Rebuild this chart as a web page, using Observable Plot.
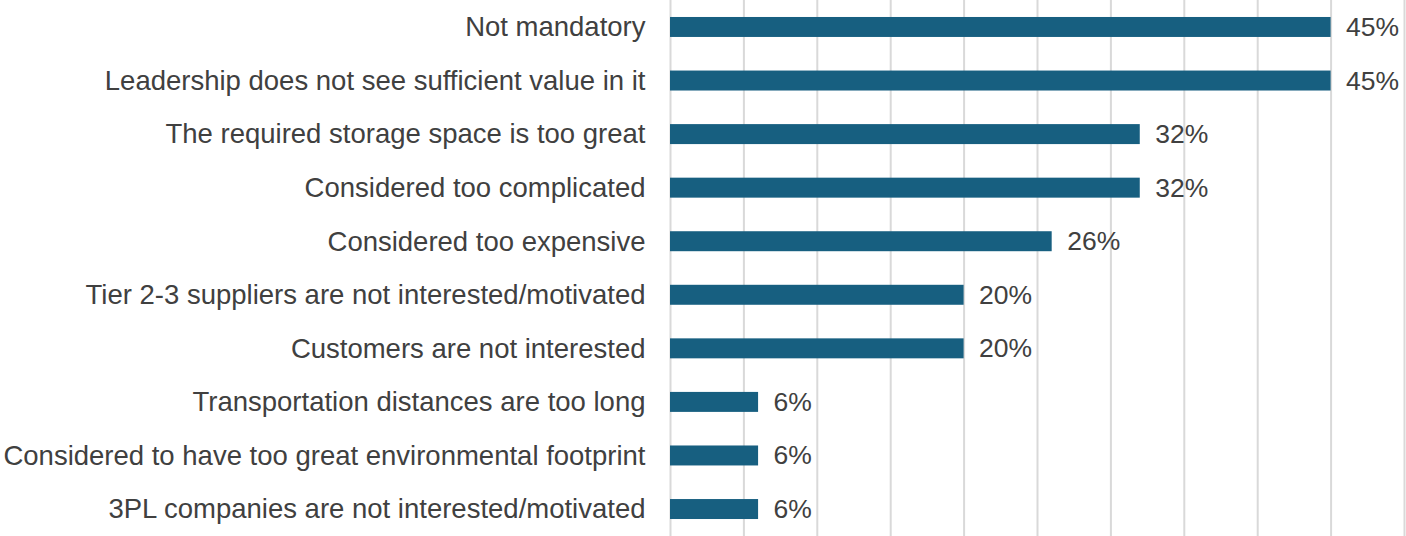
<!DOCTYPE html>
<html>
<head>
<meta charset="utf-8">
<script src="https://cdn.jsdelivr.net/npm/d3@7"></script>
<script src="https://cdn.jsdelivr.net/npm/@observablehq/plot@0.6"></script>
<style>
  html, body { margin: 0; padding: 0; background: #fff; }
  #chart svg { display: block; }
</style>
</head>
<body>
<div id="chart"></div>
<script>
const categories = [
  "Not mandatory",
  "Leadership does not see sufficient value in it",
  "The required storage space is too great",
  "Considered too complicated",
  "Considered too expensive",
  "Tier 2-3 suppliers are not interested/motivated",
  "Customers are not interested",
  "Transportation distances are too long",
  "Considered to have too great environmental footprint",
  "3PL companies are not interested/motivated"
];
const values = [45, 45, 32, 32, 26, 20, 20, 6, 6, 6];
const gridTicks = [0, 5, 10, 15, 20, 25, 30, 35, 40, 45, 50];

const data = categories.map((c, i) => ({category: c, value: values[i]}));

const chart = Plot.plot({
  width: 1406,
  height: 536,
  marginLeft: 670,
  marginRight: 2,
  marginTop: 0,
  marginBottom: 0,
  style: {fontFamily: "'Liberation Sans', Arial, sans-serif", fontSize: "27px", color: "#404040", background: "#fff"},
  x: {domain: [0, 50], axis: null},
  y: {domain: categories, paddingInner: 0.627, paddingOuter: 0.317, round: false, axis: null},
  marks: [
    Plot.ruleX(gridTicks, {stroke: "#d9d9d9", strokeWidth: 2}),
    Plot.barX(data, {x: "value", y: "category", fill: "#175f80"}),
    Plot.text(data, {x: "value", y: "category", text: d => d.value + "%", textAnchor: "start", dx: 15, fill: "#404040", fontSize: 26.5}),
    Plot.axisY({tickSize: 0, tickPadding: 25, fontSize: 27.5, fill: "#404040", label: null})
  ]
});
document.getElementById("chart").appendChild(chart);
</script>
</body>
</html>
